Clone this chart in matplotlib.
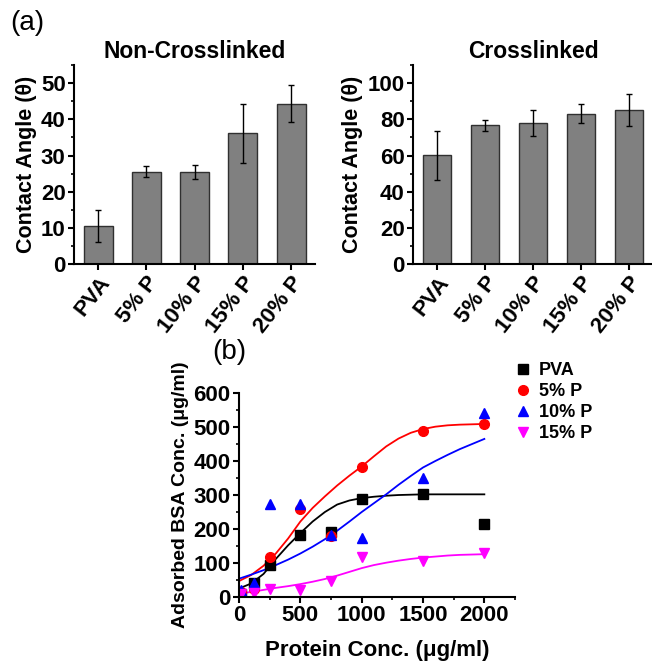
import numpy as np
import matplotlib
matplotlib.use('Agg')
import matplotlib.pyplot as plt
from matplotlib.ticker import MultipleLocator

plt.rcParams['font.family'] = ['Liberation Sans', 'DejaVu Sans']
plt.rcParams['font.weight'] = 'bold'

# contact angle bars
groups = ['PVA', '5% P', '10% P', '15% P', '20% P']
noncross = [10.5, 25.5, 25.4, 36.1, 44.3]
noncross_err = [4.4, 1.5, 2.0, 8.2, 5.1]
cross = [60.1, 76.6, 77.9, 83.2, 85.2]
cross_err = [13.4, 3.2, 7.0, 5.3, 9.0]

# BSA adsorption points
conc = [20, 125, 250, 500, 750, 1000, 1500, 2000]
pva = [10, 40, 93, 183, 190, 287, 302, 215]
p5 = [15, 25, 118, 260, 180, 383, 487, 510]
p10 = [20, 40, 275, 273, 183, 175, 350, 540]
p15 = [8, 12, 25, 20, 47, 118, 105, 130]

# fitted curves
fit_x = [0, 100, 200, 300, 400, 500, 600, 700, 800, 900, 1000,
         1100, 1200, 1300, 1400, 1500, 1600, 1700, 1800, 1900, 2000]
fit_pva = [25, 40, 68, 112, 152, 188, 222, 250, 272, 284, 291,
           295, 298, 300, 301, 302, 302, 302, 302, 302, 302]
fit_p5 = [47, 65, 92, 128, 172, 222, 262, 296, 328, 357, 384,
          414, 443, 466, 483, 494, 501, 505, 507, 508, 509]
fit_p10 = [54, 66, 79, 94, 110, 128, 148, 170, 195, 222, 250,
           276, 302, 330, 356, 381, 400, 418, 435, 450, 465]
fit_p15 = [10, 15, 21, 27, 32, 38, 45, 53, 63, 74, 85,
           94, 101, 107, 112, 116, 119, 122, 124, 125, 126]

fig = plt.figure(figsize=(6.52, 6.63), dpi=100)

def style(ax, size):
    for s in ['top', 'right']:
        ax.spines[s].set_visible(False)
    for s in ['left', 'bottom']:
        ax.spines[s].set_linewidth(1.5)
    ax.tick_params(which='major', direction='out', length=4, width=1.5, labelsize=size, pad=2)
    ax.tick_params(which='minor', direction='out', length=2.5, width=1.2)
    for lab in ax.get_yticklabels() + ax.get_xticklabels():
        lab.set_fontweight('bold')

def bars(ax, vals, errs, title, ymax, step):
    pos = np.arange(1, 6)
    ax.bar(pos, vals, width=0.6, color='#808080', edgecolor='#303030', linewidth=1.0)
    ax.errorbar(pos, vals, yerr=errs, fmt='none', ecolor='black', elinewidth=1.0,
                capsize=2, capthick=1.0)
    ax.set_xlim(0.5, 5.5)
    ax.set_ylim(0, ymax)
    ax.yaxis.set_major_locator(MultipleLocator(step))
    ax.yaxis.set_minor_locator(MultipleLocator(step / 2))
    ax.set_xticks(pos)
    ax.set_xticklabels(groups, rotation=52, ha='right', rotation_mode='anchor')
    ax.set_ylabel('Contact Angle (θ)', fontsize=15.5, fontweight='bold', labelpad=3)
    ax.set_title(title, fontsize=16.5, fontweight='bold', pad=5)
    style(ax, 16)

ax1 = fig.add_axes([0.1135, 0.6018, 0.370, 0.300])
bars(ax1, noncross, noncross_err, 'Non-Crosslinked', 55, 10)
ax2 = fig.add_axes([0.6335, 0.6018, 0.368, 0.300])
bars(ax2, cross, cross_err, 'Crosslinked', 110, 20)

ax3 = fig.add_axes([0.3666, 0.0995, 0.4233, 0.3077])
ax3.plot(fit_x, fit_pva, color='black', lw=1.3)
ax3.plot(fit_x, fit_p5, color='red', lw=1.3)
ax3.plot(fit_x, fit_p10, color='blue', lw=1.3)
ax3.plot(fit_x, fit_p15, color='magenta', lw=1.3)
ax3.plot(conc, pva, 's', color='black', ms=6.5, label='PVA')
ax3.plot(conc, p5, 'o', color='red', ms=7, label='5% P')
ax3.plot(conc, p10, '^', color='blue', ms=7, label='10% P')
ax3.plot(conc, p15, 'v', color='magenta', ms=7, label='15% P')
ax3.set_xlim(0, 2250)
ax3.set_ylim(0, 600)
ax3.xaxis.set_major_locator(MultipleLocator(500))
ax3.xaxis.set_minor_locator(MultipleLocator(250))
ax3.yaxis.set_major_locator(MultipleLocator(100))
ax3.yaxis.set_minor_locator(MultipleLocator(50))
ax3.set_xlabel('Protein Conc. (μg/ml)', fontsize=16, fontweight='bold', labelpad=10)
ax3.set_ylabel('Adsorbed BSA Conc. (μg/ml)', fontsize=14, fontweight='bold', labelpad=3)
style(ax3, 16)
ax3.legend(loc='upper left', bbox_to_anchor=(0.76, 0.478), bbox_transform=fig.transFigure,
           frameon=False, prop={'size': 13, 'weight': 'bold'}, handletextpad=0.3,
           labelspacing=0.22, handlelength=1.2)

fig.text(0.015, 0.985, '(a)', fontsize=20, fontweight='normal', va='top', ha='left')
fig.text(0.325, 0.489, '(b)', fontsize=20, fontweight='normal', va='top', ha='left')

fig.savefig('out.png', dpi=100)
